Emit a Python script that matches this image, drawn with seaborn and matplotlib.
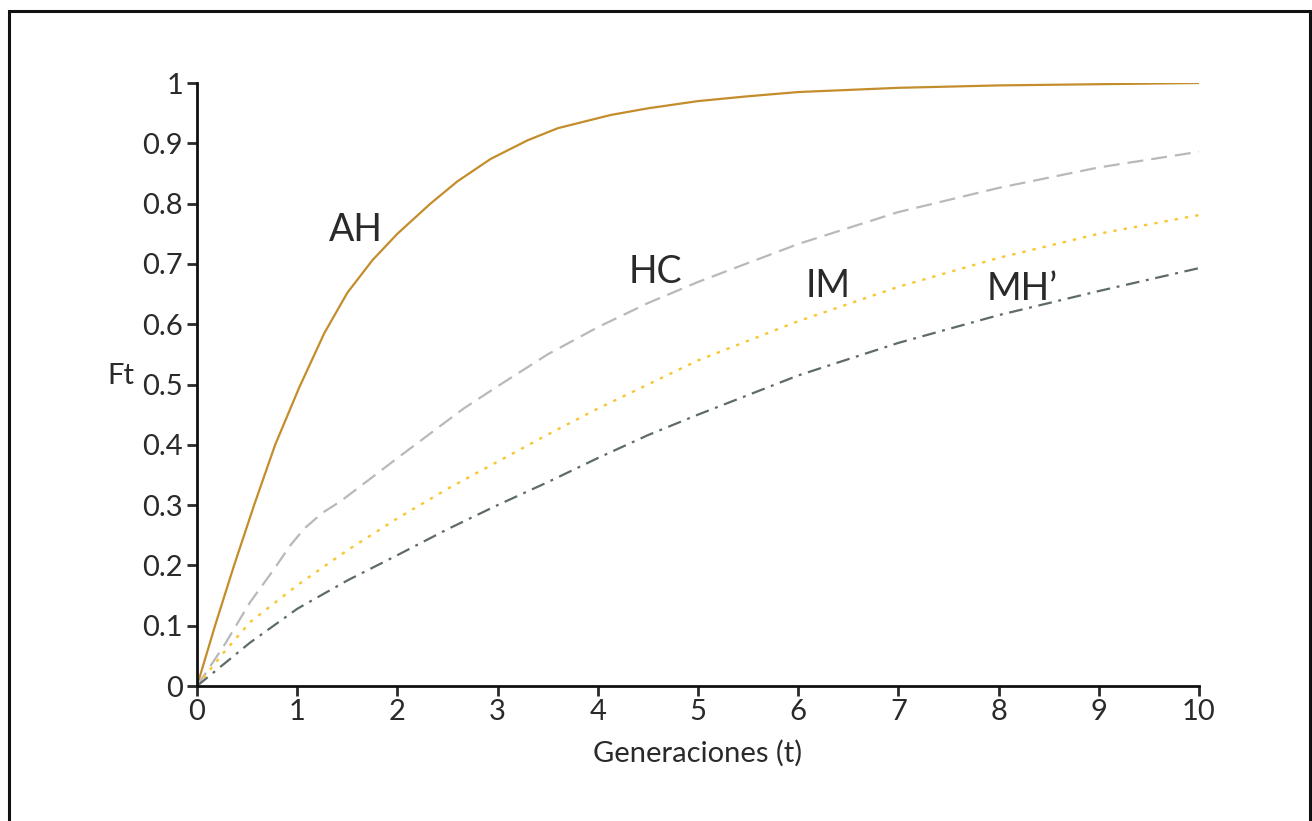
import matplotlib
matplotlib.use("Agg")
import matplotlib.pyplot as plt
from matplotlib.patches import Rectangle
import numpy as np
import pandas as pd
import seaborn as sns

# F_t per generation
t_ah = [0, 0.18, 0.37, 0.57, 0.78, 1.02, 1.27, 1.5, 1.75, 2.0, 2.33, 2.6, 2.93, 3.3,
        3.6, 4.13, 4.5, 5, 5.5, 6, 7, 8, 9, 10]
f_ah = [0, 0.1, 0.2, 0.3, 0.4, 0.495, 0.585, 0.652, 0.706, 0.75, 0.80, 0.837, 0.874, 0.905,
        0.925, 0.947, 0.958, 0.97, 0.978, 0.985, 0.992, 0.996, 0.998, 1.0]

t_hc = [0, 0.27, 0.53, 0.77, 0.93, 1.07, 1.25, 1.43, 1.7, 2.0, 2.33, 2.66, 3.0, 3.5,
        4.0, 4.5, 5, 6, 7, 8, 9, 10]
f_hc = [0, 0.067, 0.139, 0.194, 0.233, 0.261, 0.287, 0.306, 0.34, 0.378, 0.419, 0.46,
        0.497, 0.55, 0.595, 0.635, 0.67, 0.733, 0.786, 0.826, 0.86, 0.886]

t_im = [0, 0.27, 0.53, 1, 1.5, 2, 2.5, 3, 3.5, 4.0, 4.5, 5, 6, 7, 8, 9, 10]
f_im = [0, 0.056, 0.106, 0.167, 0.225, 0.278, 0.327, 0.372, 0.417, 0.46, 0.50, 0.54,
        0.605, 0.662, 0.71, 0.75, 0.781]

t_mh = [0, 0.53, 1, 1.5, 2, 2.5, 3, 3.5, 4.0, 4.5, 5, 6, 7, 8, 9, 10]
f_mh = [0, 0.072, 0.128, 0.175, 0.217, 0.26, 0.30, 0.338, 0.378, 0.416, 0.45, 0.515,
        0.569, 0.615, 0.655, 0.693]

labels = ["AH", "HC", "IM", "MH\u2019"]
label_pos = [(1.59, 0.738), (4.57, 0.668), (6.3, 0.645), (8.24, 0.640)]

sns.set_style("ticks")
plt.rcParams["font.family"] = ["Lato", "DejaVu Sans"]
ink = "#2a2a2a"

fig = plt.figure(figsize=(13.12, 8.21), dpi=100)
ax = fig.add_axes([197 / 1312, 1 - 686 / 821, (1199 - 197) / 1312, (686 - 83) / 821])

series = [
    (t_ah, f_ah, "#C48D2C", "-", 1.6),
    (t_hc, f_hc, "#B9B9BB", (0, (7.2, 3.6)), 1.6),
    (t_im, f_im, "#F7C631", (0, (1.4, 3.0)), 1.7),
    (t_mh, f_mh, "#5E6B66", (0, (6.2, 3.0, 1.3, 3.0)), 1.6),
]
for t, f, c, ls, lw in series:
    df = pd.DataFrame({"t": t, "F": f})
    sns.lineplot(data=df, x="t", y="F", ax=ax, color=c, linestyle=ls, linewidth=lw)

for lab, (x, y) in zip(labels, label_pos):
    ax.text(x, y, lab, fontsize=27, color=ink, ha="center", va="baseline")

ax.set_xlim(0, 10)
ax.set_ylim(0, 1)
ax.set_xticks(range(11))
ax.set_yticks(np.arange(0, 1.01, 0.1))
ax.set_yticklabels(["0", "0.1", "0.2", "0.3", "0.4", "0.5", "0.6", "0.7", "0.8", "0.9", "1"])
ax.tick_params(axis="both", labelsize=21, colors=ink, length=7, width=2, pad=3)
ax.tick_params(axis="x", pad=2)
for s in ["top", "right"]:
    ax.spines[s].set_visible(False)
for s in ["left", "bottom"]:
    ax.spines[s].set_linewidth(2)
    ax.spines[s].set_color("#111111")

ax.set_xlabel("Generaciones (t)", fontsize=21, color=ink, labelpad=11)
ax.set_ylabel("")
fig.text(121 / 1312, 1 - 384 / 821, "Ft", fontsize=21, color=ink, ha="center",
         va="baseline")

# outer frame
fig.add_artist(Rectangle((9 / 1312, -0.1), (1310 - 9) / 1312, 1.1 - 11 / 821,
                         transform=fig.transFigure, fill=False, edgecolor="#111111",
                         linewidth=2.2, clip_on=False))

fig.savefig("out.png", dpi=100, facecolor="white")
